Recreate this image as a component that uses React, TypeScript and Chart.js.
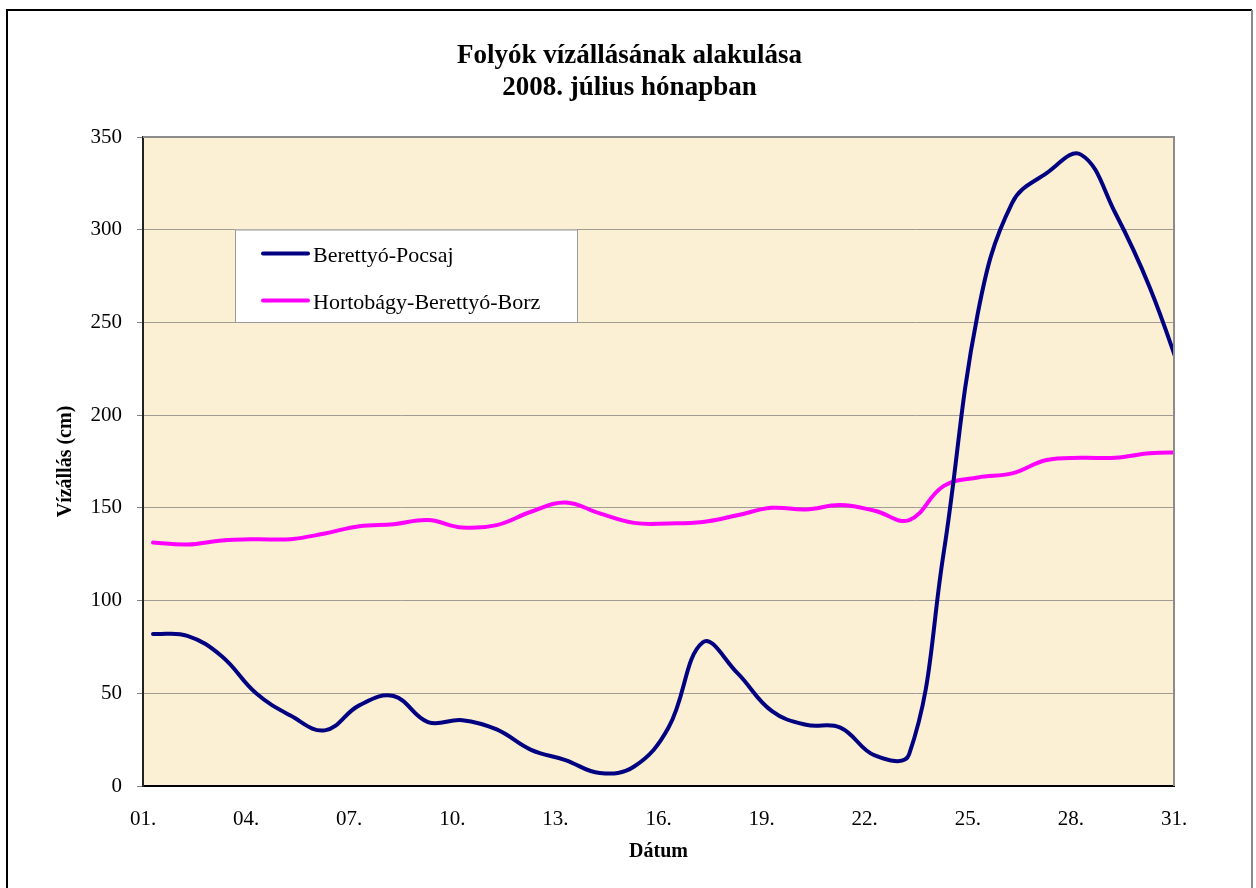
import { useEffect, useRef } from 'react';
import { Chart, registerables } from 'chart.js';

Chart.register(...registerables);

const FONT = "'Liberation Serif', 'Times New Roman', serif";

const titleLines = ['Folyók vízállásának alakulása', '2008. július hónapban'];
const xAxisTitle = 'Dátum';
const yAxisTitle = 'Vízállás (cm)';

// July 2008, one reading per day (morning reading at 7:00)
const days = [1, 2, 3, 4, 5, 6, 7, 8, 9, 10, 11, 12, 13, 14, 15, 16, 17, 18, 19, 20, 21, 22, 23, 24, 25, 26, 27, 28, 29, 30, 31];
const readingHour = 7;

const seriesNames = ['Berettyó-Pocsaj', 'Hortobágy-Berettyó-Borz'];
const seriesColors = ['#000080', '#FF00FF'];

const berettyoPocsaj = [82, 81, 70, 50, 38, 30, 43.5, 48.5, 34.5, 35.5, 30.5, 19.5, 14, 7, 10.5, 31.5, 77.5, 61, 40.5, 33, 31.5, 16.5, 17, 125, 255, 314.5, 330.5, 340.5, 309, 269, 218];
const hortobagyBorz = [131.3, 130.2, 132.4, 133.1, 133.1, 136.2, 140.1, 141.2, 143.4, 139.4, 140.7, 147.9, 152.9, 147, 141.9, 141.6, 142.4, 146, 150, 149.1, 151.5, 148.4, 143.4, 161.7, 166.4, 168.6, 175.8, 177, 177, 179.4, 180];

const xMin = 1;
const xMax = 31;
const xStep = 3;
const yMin = 0;
const yMax = 350;
const yStep = 50;

const formatDay = (v: number) => String(Math.round(v)).padStart(2, '0') + '.';

const framePlugin = {
  id: 'framePlugin',
  beforeDraw(chart: any) {
    const { ctx, chartArea: a, width, height } = chart;
    ctx.save();
    ctx.fillStyle = '#ffffff';
    ctx.fillRect(0, 0, width, height);
    // outer frame
    ctx.lineWidth = 2;
    ctx.strokeStyle = '#000000';
    ctx.beginPath();
    ctx.moveTo(7, height + 4);
    ctx.lineTo(7, 10);
    ctx.lineTo(1252, 10);
    ctx.stroke();
    ctx.strokeStyle = '#8a8a8a';
    ctx.beginPath();
    ctx.moveTo(1252, 10);
    ctx.lineTo(1252, height + 4);
    ctx.stroke();
    // plot background
    ctx.fillStyle = '#FBEFD4';
    ctx.fillRect(a.left, a.top, a.right - a.left, a.bottom - a.top);
    ctx.restore();
  },
  afterDatasetsDraw(chart: any) {
    const { ctx, chartArea: a } = chart;
    ctx.save();
    ctx.strokeStyle = '#8c8c8c';
    ctx.lineWidth = 2;
    ctx.beginPath();
    ctx.moveTo(a.left, a.top);
    ctx.lineTo(a.right, a.top);
    ctx.lineTo(a.right, a.bottom);
    ctx.stroke();
    ctx.restore();
  },
  afterDraw(chart: any) {
    const { ctx, chartArea: a } = chart;
    ctx.save();
    // title
    ctx.fillStyle = '#000';
    ctx.textAlign = 'center';
    ctx.textBaseline = 'alphabetic';
    ctx.font = `bold 27px ${FONT}`;
    titleLines.forEach((line, i) => ctx.fillText(line, 629.5, 63 + i * 32));

    // legend box
    const bx = a.left + 92;
    const by = a.top + 92.5;
    const bw = 342;
    const bh = 92.5;
    ctx.fillStyle = '#ffffff';
    ctx.fillRect(bx, by, bw, bh);
    ctx.strokeStyle = '#9a9a9a';
    ctx.lineWidth = 1;
    ctx.strokeRect(bx + 0.5, by + 0.5, bw, bh);
    ctx.font = `22px ${FONT}`;
    ctx.textAlign = 'left';
    chart.data.datasets.forEach((ds: any, i: number) => {
      const cy = by + 24 + i * 47;
      ctx.strokeStyle = ds.borderColor;
      ctx.lineWidth = 4;
      ctx.lineCap = 'round';
      ctx.beginPath();
      ctx.moveTo(bx + 28, cy);
      ctx.lineTo(bx + 73, cy);
      ctx.stroke();
      ctx.fillStyle = '#000';
      ctx.fillText(ds.label, bx + 78, cy + 8);
    });
    ctx.restore();
  },
};

export default function App() {
  const ref = useRef<HTMLCanvasElement>(null);

  useEffect(() => {
    if (!ref.current) return;
    Chart.defaults.font.family = FONT;
    const seriesValues = [berettyoPocsaj, hortobagyBorz];
    const chart = new Chart(ref.current, {
      type: 'line',
      data: {
        datasets: seriesValues.map((vals, si) => ({
          label: seriesNames[si],
          data: days.map((d, i) => ({ x: d + readingHour / 24, y: vals[i] })),
          borderColor: seriesColors[si],
          backgroundColor: seriesColors[si],
          borderWidth: 4,
          pointRadius: 0,
          tension: 0.4,
          fill: false,
          clip: 0,
          borderCapStyle: 'round',
          borderJoinStyle: 'round',
        })),
      },
      options: {
        responsive: false,
        animation: false,
        devicePixelRatio: 1,
        layout: { padding: { top: 137, left: 0, right: 82, bottom: 0 } },
        plugins: {
          legend: { display: false },
          tooltip: { enabled: false },
          title: { display: false },
        },
        scales: {
          x: {
            type: 'linear',
            min: xMin,
            max: xMax,
            afterFit: (s: any) => {
              s.height = 102;
            },
            grid: { display: false, drawTicks: false },
            border: { display: true, color: '#000', width: 2 },
            ticks: {
              stepSize: xStep,
              padding: 21,
              color: '#000',
              autoSkip: false,
              maxRotation: 0,
              font: { family: FONT, size: 21 },
              callback: (v: any) => formatDay(Number(v)),
            },
            title: {
              display: true,
              text: xAxisTitle,
              color: '#000',
              font: { family: FONT, size: 20, weight: 'bold' },
              padding: { top: 0, bottom: 24 },
            },
          },
          y: {
            min: yMin,
            max: yMax,
            afterFit: (s: any) => {
              s.width = 143;
            },
            grid: { color: '#a09c94', lineWidth: 1, tickLength: 6, tickColor: '#808080' },
            border: { display: true, color: '#222', width: 2 },
            ticks: {
              stepSize: yStep,
              padding: 15,
              color: '#000',
              font: { family: FONT, size: 21 },
            },
            title: {
              display: true,
              text: yAxisTitle,
              color: '#000',
              font: { family: FONT, size: 20, weight: 'bold' },
              padding: { top: 54, bottom: 0 },
            },
          },
        },
      } as any,
      plugins: [framePlugin],
    });
    return () => chart.destroy();
  }, []);

  return (
    <div style={{ position: 'absolute', left: 0, top: 0, width: 1256, height: 888, background: '#fff' }}>
      <canvas ref={ref} width={1256} height={888} style={{ display: 'block', width: 1256, height: 888 }} />
    </div>
  );
}
